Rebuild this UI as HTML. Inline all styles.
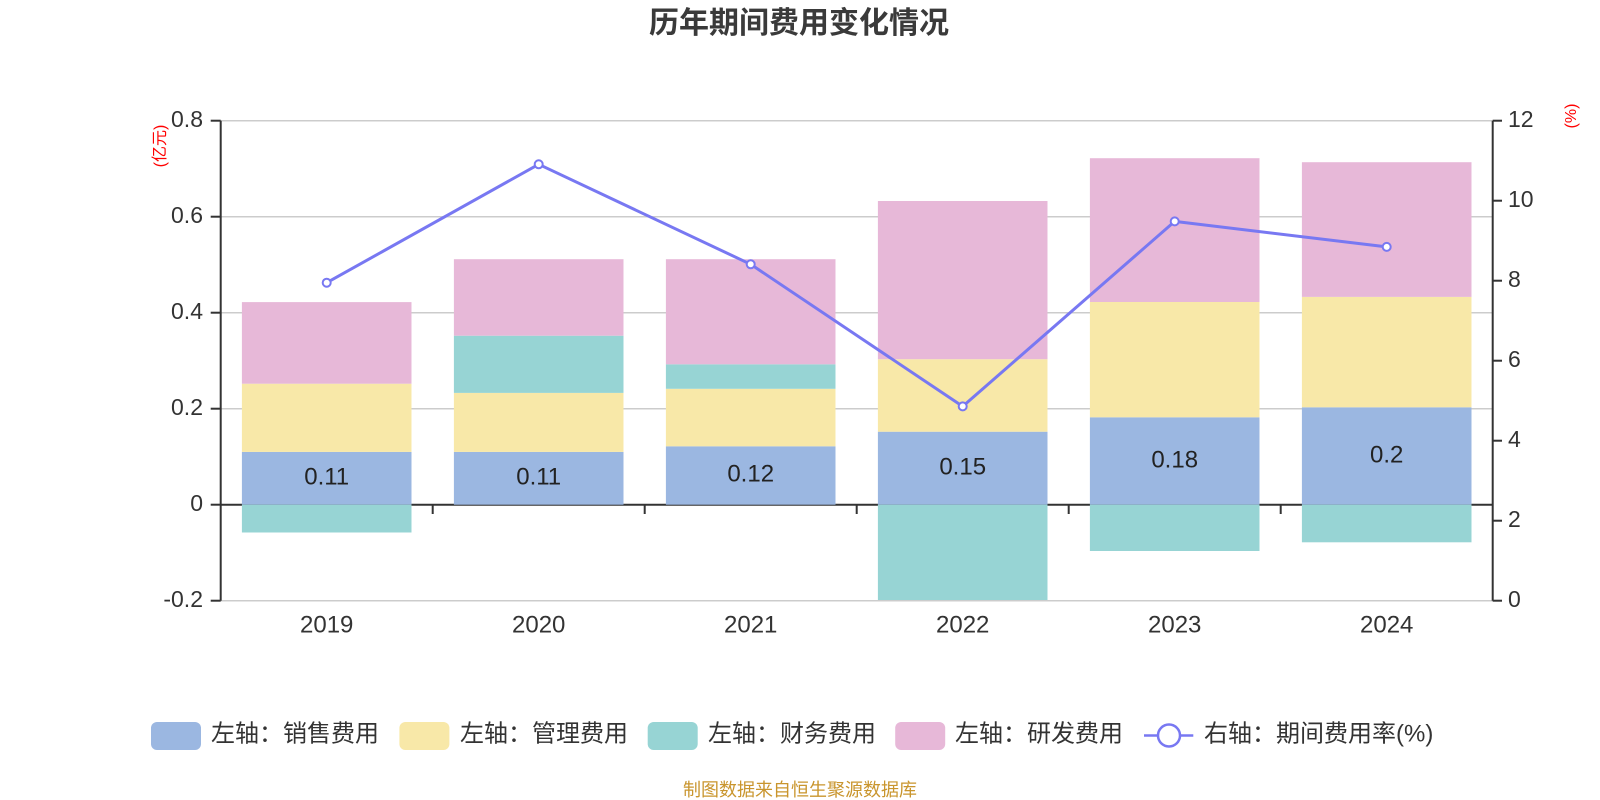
<!DOCTYPE html>
<html><head><meta charset="utf-8"><style>
html,body{margin:0;padding:0;background:#fff;}
svg{display:block;font-family:"Liberation Sans","Noto Sans CJK SC",sans-serif;}
</style></head><body>
<svg width="1600" height="800" viewBox="0 0 1600 800" xmlns="http://www.w3.org/2000/svg">
<rect width="1600" height="800" fill="#fff"/>
<text x="799" y="33" text-anchor="middle" font-size="30" font-weight="bold" fill="#3a3a3a">历年期间费用变化情况</text>

<!-- gridlines -->
<g stroke="#cccccc" stroke-width="1.5">
<line x1="220.7" y1="120.7" x2="1492.7" y2="120.7"/>
<line x1="220.7" y1="216.7" x2="1492.7" y2="216.7"/>
<line x1="220.7" y1="312.7" x2="1492.7" y2="312.7"/>
<line x1="220.7" y1="408.7" x2="1492.7" y2="408.7"/>
<line x1="220.7" y1="600.7" x2="1492.7" y2="600.7"/>
</g>
<!-- x axis line -->
<line x1="220.7" y1="504.7" x2="1492.7" y2="504.7" stroke="#333" stroke-width="2"/>
<g stroke="#333" stroke-width="2">
<line x1="432.7" y1="504.7" x2="432.7" y2="514"/>
<line x1="644.7" y1="504.7" x2="644.7" y2="514"/>
<line x1="856.7" y1="504.7" x2="856.7" y2="514"/>
<line x1="1068.7" y1="504.7" x2="1068.7" y2="514"/>
<line x1="1280.7" y1="504.7" x2="1280.7" y2="514"/>
</g>

<!-- 2019 -->
<g>
<rect x="241.9" y="451.9" width="169.6" height="52.8" fill="#9bb7e1"/>
<rect x="241.9" y="383.7" width="169.6" height="68.2" fill="#f8e8a8"/>
<rect x="241.9" y="302.1" width="169.6" height="81.6" fill="#e7b8d8"/>
<rect x="241.9" y="504.7" width="169.6" height="27.8" fill="#97d4d4"/>
</g>
<!-- 2020 -->
<g>
<rect x="453.9" y="451.9" width="169.6" height="52.8" fill="#9bb7e1"/>
<rect x="453.9" y="392.9" width="169.6" height="59" fill="#f8e8a8"/>
<rect x="453.9" y="335.7" width="169.6" height="57.2" fill="#97d4d4"/>
<rect x="453.9" y="259.2" width="169.6" height="76.5" fill="#e7b8d8"/>
</g>
<!-- 2021 -->
<g>
<rect x="665.9" y="446.3" width="169.6" height="58.4" fill="#9bb7e1"/>
<rect x="665.9" y="388.8" width="169.6" height="57.5" fill="#f8e8a8"/>
<rect x="665.9" y="364.3" width="169.6" height="24.5" fill="#97d4d4"/>
<rect x="665.9" y="259.2" width="169.6" height="105.1" fill="#e7b8d8"/>
</g>
<!-- 2022 -->
<g>
<rect x="877.9" y="431.7" width="169.6" height="73" fill="#9bb7e1"/>
<rect x="877.9" y="359.2" width="169.6" height="72.5" fill="#f8e8a8"/>
<rect x="877.9" y="201" width="169.6" height="158.2" fill="#e7b8d8"/>
<rect x="877.9" y="504.7" width="169.6" height="95.3" fill="#97d4d4"/>
</g>
<!-- 2023 -->
<g>
<rect x="1089.9" y="417.3" width="169.6" height="87.4" fill="#9bb7e1"/>
<rect x="1089.9" y="302" width="169.6" height="115.3" fill="#f8e8a8"/>
<rect x="1089.9" y="158.2" width="169.6" height="143.8" fill="#e7b8d8"/>
<rect x="1089.9" y="504.7" width="169.6" height="46.3" fill="#97d4d4"/>
</g>
<!-- 2024 -->
<g>
<rect x="1301.9" y="407.3" width="169.6" height="97.4" fill="#9bb7e1"/>
<rect x="1301.9" y="296.9" width="169.6" height="110.4" fill="#f8e8a8"/>
<rect x="1301.9" y="162.2" width="169.6" height="134.7" fill="#e7b8d8"/>
<rect x="1301.9" y="504.7" width="169.6" height="37.6" fill="#97d4d4"/>
</g>

<!-- bar labels -->
<g font-size="24" fill="#222" text-anchor="middle" dominant-baseline="central">
<text x="326.7" y="477">0.11</text>
<text x="538.7" y="477">0.11</text>
<text x="750.7" y="474">0.12</text>
<text x="962.7" y="467">0.15</text>
<text x="1174.7" y="460">0.18</text>
<text x="1386.7" y="455">0.2</text>
</g>

<!-- left axis -->
<line x1="220.7" y1="120.7" x2="220.7" y2="600.7" stroke="#333" stroke-width="2"/>
<g stroke="#333" stroke-width="2">
<line x1="210.7" y1="120.7" x2="220.7" y2="120.7"/>
<line x1="210.7" y1="216.7" x2="220.7" y2="216.7"/>
<line x1="210.7" y1="312.7" x2="220.7" y2="312.7"/>
<line x1="210.7" y1="408.7" x2="220.7" y2="408.7"/>
<line x1="210.7" y1="504.7" x2="220.7" y2="504.7"/>
<line x1="210.7" y1="600.7" x2="220.7" y2="600.7"/>
</g>
<g font-size="23" fill="#333" text-anchor="end" dominant-baseline="central">
<text x="203" y="119">0.8</text>
<text x="203" y="215">0.6</text>
<text x="203" y="311">0.4</text>
<text x="203" y="407">0.2</text>
<text x="203" y="503">0</text>
<text x="203" y="599">-0.2</text>
</g>
<text transform="translate(165,146) rotate(-90)" font-size="16" fill="#ff0000" text-anchor="middle">(亿元)</text>

<!-- right axis -->
<line x1="1492.7" y1="120.7" x2="1492.7" y2="600.7" stroke="#333" stroke-width="2"/>
<g stroke="#333" stroke-width="2">
<line x1="1492.7" y1="120.7" x2="1502" y2="120.7"/>
<line x1="1492.7" y1="200.7" x2="1502" y2="200.7"/>
<line x1="1492.7" y1="280.7" x2="1502" y2="280.7"/>
<line x1="1492.7" y1="360.7" x2="1502" y2="360.7"/>
<line x1="1492.7" y1="440.7" x2="1502" y2="440.7"/>
<line x1="1492.7" y1="520.7" x2="1502" y2="520.7"/>
<line x1="1492.7" y1="600.7" x2="1502" y2="600.7"/>
</g>
<g font-size="23" fill="#333" text-anchor="start" dominant-baseline="central">
<text x="1508" y="119">12</text>
<text x="1508" y="199">10</text>
<text x="1508" y="279">8</text>
<text x="1508" y="359">6</text>
<text x="1508" y="439">4</text>
<text x="1508" y="519">2</text>
<text x="1508" y="599">0</text>
</g>
<text transform="translate(1576,116) rotate(-90)" font-size="16" fill="#ff0000" text-anchor="middle">(%)</text>

<!-- x labels -->
<g font-size="24" fill="#333" text-anchor="middle" dominant-baseline="central">
<text x="326.7" y="625">2019</text>
<text x="538.7" y="625">2020</text>
<text x="750.7" y="625">2021</text>
<text x="962.7" y="625">2022</text>
<text x="1174.7" y="625">2023</text>
<text x="1386.7" y="625">2024</text>
</g>

<!-- line series -->
<polyline points="326.7,282.7 538.7,164.3 750.7,264.3 962.7,406.4 1174.7,221.4 1386.7,246.9" fill="none" stroke="#7878f2" stroke-width="3" stroke-linejoin="round"/>
<g fill="#fff" stroke="#7878f2" stroke-width="2">
<circle cx="326.7" cy="282.7" r="4"/>
<circle cx="538.7" cy="164.3" r="4"/>
<circle cx="750.7" cy="264.3" r="4"/>
<circle cx="962.7" cy="406.4" r="4"/>
<circle cx="1174.7" cy="221.4" r="4"/>
<circle cx="1386.7" cy="246.9" r="4"/>
</g>

<!-- legend -->
<rect x="151" y="722" width="50" height="28" rx="6" fill="#9bb7e1"/>
<rect x="399.4" y="722" width="50" height="28" rx="6" fill="#f8e8a8"/>
<rect x="647.7" y="722" width="50" height="28" rx="6" fill="#97d4d4"/>
<rect x="895.2" y="722" width="50" height="28" rx="6" fill="#e7b8d8"/>
<line x1="1144" y1="735.5" x2="1193.3" y2="735.5" stroke="#7878f2" stroke-width="2.5"/>
<circle cx="1169" cy="735.5" r="11" fill="#fff" stroke="#7878f2" stroke-width="2.5"/>
<g font-size="24" fill="#333" dominant-baseline="central">
<text x="211" y="734">左轴：销售费用</text>
<text x="460" y="734">左轴：管理费用</text>
<text x="708" y="734">左轴：财务费用</text>
<text x="955" y="734">左轴：研发费用</text>
<text x="1204" y="734">右轴：期间费用率(%)</text>
</g>

<text x="800" y="790" font-size="18" fill="#c9952d" text-anchor="middle" dominant-baseline="central">制图数据来自恒生聚源数据库</text>
</svg>
</body></html>
